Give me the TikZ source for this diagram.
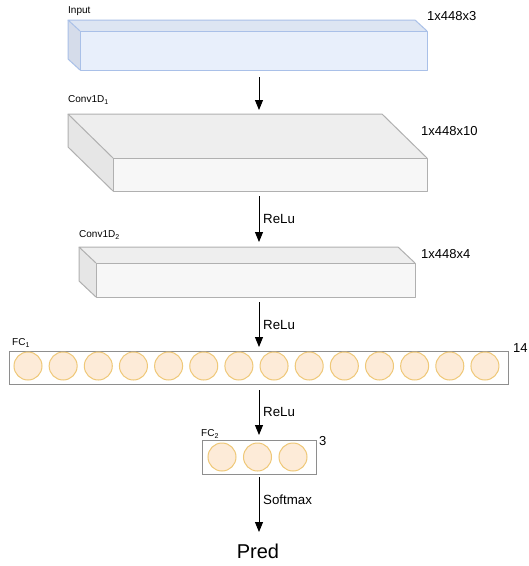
\documentclass[tikz,border=0pt]{standalone}
\usepackage{fontspec}
\setmainfont{Liberation Sans}
\usetikzlibrary{arrows.meta}
\definecolor{bluefront}{HTML}{E8EFFB}
\definecolor{bluetop}{HTML}{DDE5F2}
\definecolor{blueside}{HTML}{D5DCEA}
\definecolor{bluestroke}{HTML}{A9C0E8}
\definecolor{grayfront}{HTML}{F7F7F7}
\definecolor{graytop}{HTML}{EEEEEE}
\definecolor{grayside}{HTML}{E6E6E6}
\definecolor{graystroke}{HTML}{B0B0B0}
\definecolor{fcstroke}{HTML}{8E8E8E}
\definecolor{neuronfill}{HTML}{FDEBD8}
\definecolor{neuronstroke}{HTML}{EFC878}
\tikzset{
  x=1pt, y=-1pt,
  smalllbl/.style={anchor=west, inner sep=0pt, font=\fontsize{10}{12}\selectfont},
  dimlbl/.style={anchor=west, inner sep=0pt, font=\fontsize{13}{15}\selectfont},
  actlbl/.style={anchor=west, inner sep=0pt, font=\fontsize{13.3}{15}\selectfont},
  flow/.style={line width=1pt, -{Stealth[length=10pt,width=8pt,inset=0pt]}},
  neuron/.style={circle, draw=neuronstroke, fill=neuronfill, line width=1pt, minimum size=28pt, inner sep=0pt},
  layerbox/.style={draw=fcstroke, fill=white, line width=1pt},
}
% \blockcube{x1}{y1}{x2}{y2}{dx}{dy}{colour prefix}
\newcommand{\blockcube}[7]{%
  \fill[#7front] (#1,#2) rectangle (#3,#4);
  \fill[#7top] (#1,#2) -- (#1-#5,#2-#6) -- (#3-#5,#2-#6) -- (#3,#2) -- cycle;
  \fill[#7side] (#1,#2) -- (#1-#5,#2-#6) -- (#1-#5,#4-#6) -- (#1,#4) -- cycle;
  \draw[#7stroke, line width=1pt, line join=round] (#1,#2) rectangle (#3,#4);
  \draw[#7stroke, line width=1pt, line join=round] (#1,#2) -- (#1-#5,#2-#6) -- (#3-#5,#2-#6) -- (#3,#2);
  \draw[#7stroke, line width=1pt, line join=round] (#1-#5,#2-#6) -- (#1-#5,#4-#6) -- (#1,#4);
}
\begin{document}
\begin{tikzpicture}
\useasboundingbox[fill=white] (0,0) rectangle (529,566);

% Input
\blockcube{80}{31}{427}{70}{12}{11}{blue}
\node[smalllbl] (inlbl) at (68,11) {Input};
\node[dimlbl] (indim) at (427,16) {1x448x3};
\coordinate (inout) at (259,77);

% Conv1D_1
\blockcube{113}{158}{427}{191}{45}{44}{gray}
\node[smalllbl] (c1lbl) at (68,100) {Conv1D\textsubscript{1}};
\node[dimlbl] (c1dim) at (421,131) {1x448x10};
\coordinate (c1in) at (259,110);
\coordinate (c1out) at (259,196);

% Conv1D_2
\blockcube{96}{263}{415}{297}{17}{16}{gray}
\node[smalllbl] (c2lbl) at (79,235) {Conv1D\textsubscript{2}};
\node[dimlbl] (c2dim) at (421,254) {1x448x4};
\coordinate (c2in) at (259,242);
\coordinate (c2out) at (259,302);

% FC_1
\draw[layerbox] (9,351) rectangle (508,384);
\foreach \i in {0,...,13} {
  \node[neuron] (n1\i) at (28+35.15*\i,366) {};
}
\node[smalllbl] (f1lbl) at (12,343) {FC\textsubscript{1}};
\node[dimlbl] (f1dim) at (513,348) {14};
\coordinate (f1in) at (259,347);
\coordinate (f1out) at (259,390);

% FC_2
\draw[layerbox] (202,440) rectangle (316,474);
\node[neuron] (n21) at (222,457) {};
\node[neuron] (n22) at (257.5,457) {};
\node[neuron] (n23) at (293,457) {};
\node[smalllbl] (f2lbl) at (201,434) {FC\textsubscript{2}};
\node[dimlbl] (f2dim) at (319,441) {3};
\coordinate (f2in) at (259,435);
\coordinate (f2out) at (259,477);

% Prediction
\node[font=\fontsize{20}{24}\selectfont, inner sep=0pt] (pred) at (258,551) {Pred};
\coordinate (predin) at (259,532);

% Connectors
\draw[flow] (inout) -- (c1in);
\draw[flow] (c1out) -- (c2in);
\draw[flow] (c2out) -- (f1in);
\draw[flow] (f1out) -- (f2in);
\draw[flow] (f2out) -- (predin);

\node[actlbl] (r1) at (263,219) {ReLu};
\node[actlbl] (r2) at (263,325) {ReLu};
\node[actlbl] (r3) at (263,412) {ReLu};
\node[actlbl] (sm) at (263,500) {Softmax};
\end{tikzpicture}
\end{document}
